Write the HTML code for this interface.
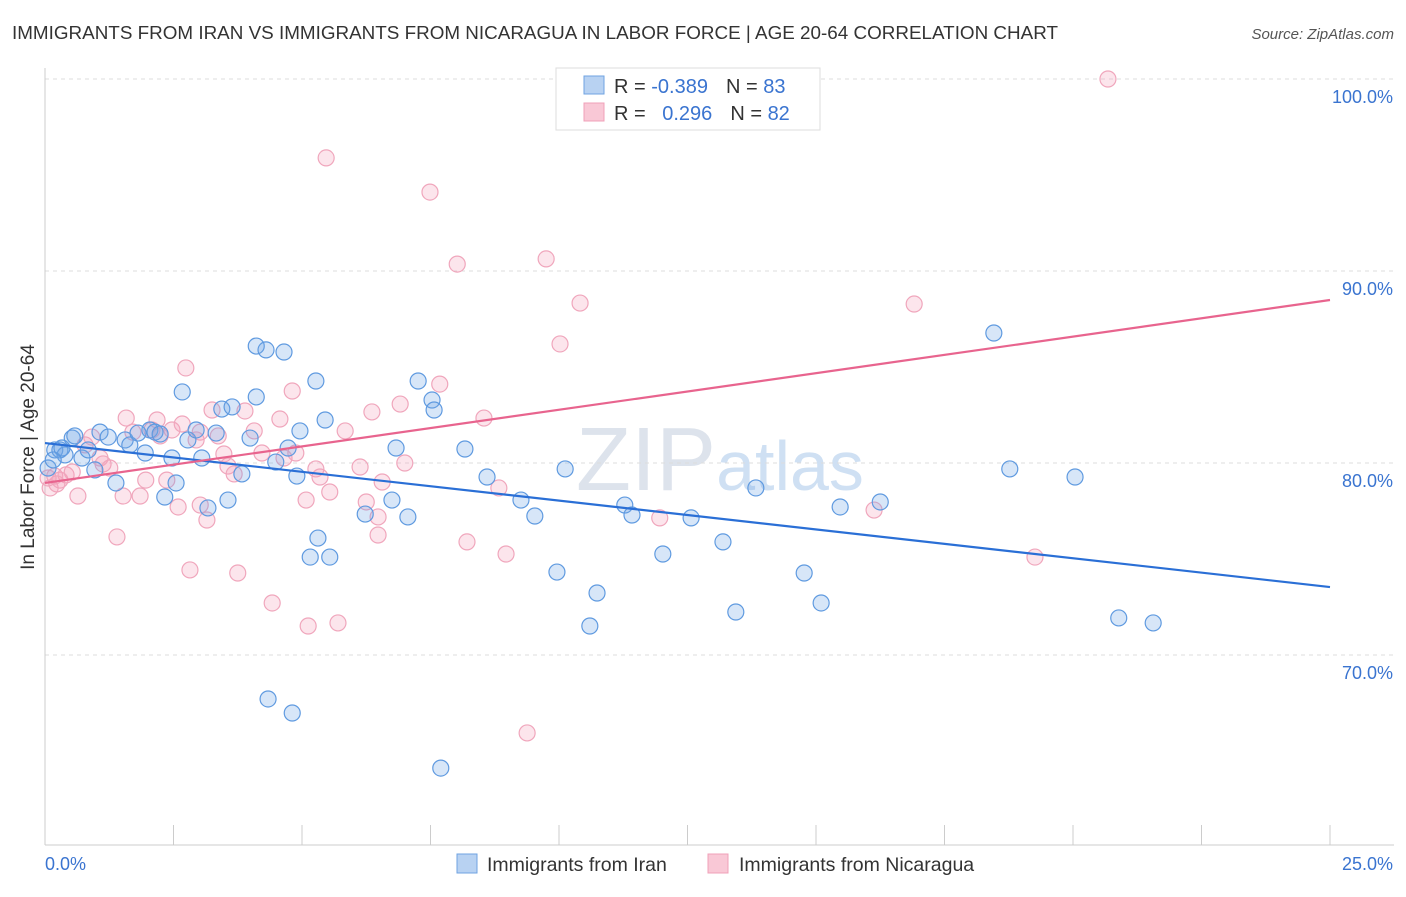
<!DOCTYPE html>
<html><head><meta charset="utf-8"><style>
body{margin:0;background:#fff;font-family:"Liberation Sans",sans-serif;}
svg text{font-family:"Liberation Sans",sans-serif;}
</style></head><body>
<svg id="chart" width="1406" height="892" viewBox="0 0 1406 892" xmlns="http://www.w3.org/2000/svg">
<text x="12" y="39" font-size="18" fill="#333" textLength="1046" lengthAdjust="spacingAndGlyphs">IMMIGRANTS FROM IRAN VS IMMIGRANTS FROM NICARAGUA IN LABOR FORCE | AGE 20-64 CORRELATION CHART</text>
<text x="1394" y="39" font-size="15" fill="#555" text-anchor="end" font-style="italic">Source: ZipAtlas.com</text>
<text x="720" y="490" font-size="90" fill="#dde3ec" text-anchor="middle" font-family="Liberation Serif">ZIP<tspan font-family="Liberation Sans" font-size="70" fill="#cfe0f3">atlas</tspan></text>
<g id="grid"></g>
<line x1="45" y1="68" x2="45" y2="845" stroke="#ccc"/>
<line x1="45" y1="845" x2="1394" y2="845" stroke="#ccc"/>
<g id="xticks"></g>
<text transform="translate(34,457) rotate(-90)" font-size="19" fill="#333" text-anchor="middle">In Labor Force | Age 20-64</text>
<text x="45" y="870" font-size="18" fill="#3a74d0">0.0%</text>
<text x="1393" y="870" font-size="18" fill="#3a74d0" text-anchor="end">25.0%</text>
<g id="points"></g>
<g id="trends"></g>
<g>
<rect x="556" y="68" width="264" height="62" fill="#fff" stroke="#ddd"/>
<rect x="584" y="76" width="20" height="18" fill="#b8d2f2" stroke="#6fa3e2"/>
<rect x="584" y="103" width="20" height="18" fill="#f9c8d6" stroke="#f0a0b8"/>
<text x="614" y="93" font-size="20" fill="#333">R = <tspan fill="#3a74d0">-0.389</tspan><tspan dx="18">N = </tspan><tspan fill="#3a74d0">83</tspan></text>
<text x="614" y="120" font-size="20" fill="#333">R = <tspan fill="#3a74d0" dx="11">0.296</tspan><tspan dx="18">N = </tspan><tspan fill="#3a74d0">82</tspan></text>
</g>
<g>
<rect x="457" y="854" width="20" height="19" fill="#b8d2f2" stroke="#6fa3e2"/>
<text x="487" y="871" font-size="19.5" fill="#333">Immigrants from Iran</text>
<rect x="708" y="854" width="20" height="19" fill="#f9c8d6" stroke="#f0a0b8"/>
<text x="739" y="871" font-size="19.5" fill="#333">Immigrants from Nicaragua</text>
</g>
</svg>
<script>
const yTicks=[100,90,80,70];
const yTickLabels=["100.0%","90.0%","80.0%","70.0%"];
const xTicks=[0,2.5,5,7.5,10,12.5,15,17.5,20,22.5,25];
const iranX=[0.06,0.19,0.29,0.39,0.53,0.58,0.72,0.84,0.97,1.07,1.23,1.38,1.56,1.65,1.81,1.95,2.04,2.14,2.24,2.33,2.47,2.55,2.67,2.78,2.94,3.05,3.17,3.33,3.44,3.56,3.64,3.83,3.99,4.11,4.11,4.30,4.49,4.65,4.73,4.90,4.96,5.16,5.27,5.31,5.45,5.54,6.23,6.75,6.83,7.06,7.26,7.53,7.57,7.70,8.17,8.60,9.26,9.53,9.96,10.12,10.60,10.74,11.28,11.42,12.02,12.57,13.19,13.44,13.83,14.77,15.10,15.47,16.25,18.46,18.77,20.04,20.89,21.56,4.34,4.81,0.16,0.33];
const iranY=[79.74,80.68,80.68,80.42,81.30,81.41,80.26,80.68,79.64,81.61,81.35,78.96,81.20,80.94,81.56,80.52,81.72,81.61,81.51,78.23,80.26,78.96,83.70,81.20,81.72,80.26,77.66,81.56,82.81,78.07,82.92,79.43,81.30,86.09,83.44,85.89,80.05,85.78,80.78,79.32,81.67,75.10,84.27,76.09,82.24,75.10,77.34,78.07,80.78,77.19,84.27,83.28,82.76,64.11,80.73,79.27,78.07,77.24,74.32,79.69,71.51,73.23,77.81,77.29,75.26,77.14,75.89,72.24,78.70,74.27,72.71,77.71,77.97,86.77,79.69,79.27,71.93,71.67,67.71,66.98,80.16,80.78];
const nicX=[0.10,0.19,0.29,0.41,0.53,0.64,0.78,0.91,1.07,1.13,1.26,1.40,1.52,1.58,1.71,1.85,1.96,2.08,2.18,2.24,2.37,2.47,2.59,2.67,2.74,2.82,2.94,3.02,3.15,3.25,3.37,3.48,3.56,3.68,3.75,3.89,4.07,4.22,4.42,4.57,4.65,4.81,4.88,5.08,5.12,5.27,5.35,5.47,5.54,5.70,5.84,6.13,6.25,6.36,6.48,6.48,6.56,6.91,7.00,7.49,7.68,8.02,8.21,8.54,8.83,8.97,9.38,9.75,10.02,10.41,11.96,16.13,16.91,19.26,20.68,3.02,0.23,0.06];
const nicY=[78.70,79.32,79.11,79.38,79.53,78.28,80.94,81.35,80.26,79.95,79.74,76.15,78.28,82.34,81.61,78.28,79.11,81.72,82.24,81.41,79.11,81.72,77.71,82.03,84.95,74.43,81.20,81.61,77.03,82.76,81.41,80.47,79.84,79.43,74.27,82.71,81.67,80.52,72.71,82.29,80.26,83.75,80.52,78.07,71.51,79.69,79.27,95.89,78.49,71.67,81.67,79.79,77.97,82.66,77.19,76.25,79.01,83.07,80.00,94.11,84.11,90.36,75.89,82.34,78.70,75.26,65.94,90.63,86.20,88.33,77.14,77.55,88.28,75.10,100.0,77.81,78.91,79.22];
const iranTrend=[81.04,73.54];
const nicTrend=[78.96,88.49];
const NS="http://www.w3.org/2000/svg";
const xs=v=>45+v*51.4;
const ys=v=>79+(100-v)*19.2;
function mk(t,a,p){const e=document.createElementNS(NS,t);for(const k in a)e.setAttribute(k,a[k]);p.appendChild(e);return e;}
const grid=document.getElementById('grid');
yTicks.forEach((t,i)=>{
 const l=mk('line',{x1:45,x2:1394,y1:ys(t),y2:ys(t),stroke:'#ddd','stroke-dasharray':'4,4'},grid);
 
 
 const tx=mk('text',{x:1393,y:ys(t)+24,'font-size':18,fill:'#3a74d0','text-anchor':'end'},grid);
 tx.textContent=yTickLabels[i];
 
 
});
const xt=document.getElementById('xticks');
xTicks.forEach(t=>{
 const l=mk('line',{x1:xs(t),x2:xs(t),y1:825,y2:845,stroke:'#ccc'},xt);
 
 
});
const pts=document.getElementById('points');
nicX.forEach((x,i)=>{
 const c=mk('circle',{cx:xs(x),cy:ys(nicY[i]),r:8,fill:'rgba(245,160,185,0.28)',stroke:'#f0a6bc','stroke-width':1.2},pts);
 
 
});
iranX.forEach((x,i)=>{
 const c=mk('circle',{cx:xs(x),cy:ys(iranY[i]),r:8,fill:'rgba(110,165,230,0.28)',stroke:'#5f9ae0','stroke-width':1.2},pts);
 
 
});
const tr=document.getElementById('trends');
const t1=mk('line',{x1:xs(0),x2:xs(25),y1:ys(iranTrend[0]),y2:ys(iranTrend[1]),stroke:'#2a6fd6','stroke-width':2.2},tr);


const t2=mk('line',{x1:xs(0),x2:xs(25),y1:ys(nicTrend[0]),y2:ys(nicTrend[1]),stroke:'#e8648e','stroke-width':2.2},tr);


</script>
</body></html>
